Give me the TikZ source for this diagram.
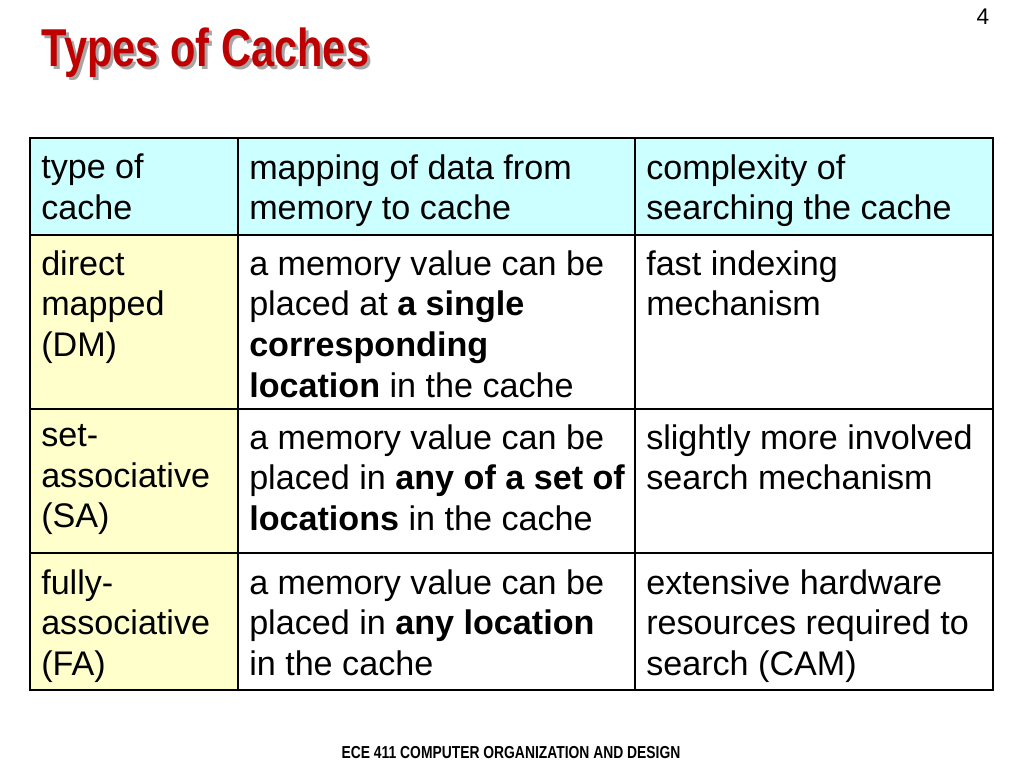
\documentclass[tikz,border=0pt]{standalone}
\usepackage{fontspec}
\setmainfont{Liberation Sans}
\usetikzlibrary{positioning}
\definecolor{headcyan}{HTML}{CCFFFF}
\definecolor{typeyellow}{HTML}{FFFFCC}
\definecolor{titlered}{HTML}{C00000}
\tikzset{
  cell/.style={anchor=north west,align=left,inner sep=0pt,
    font=\fontsize{25.6pt}{30.5pt}\selectfont},
}
\begin{document}
\begin{tikzpicture}[x=0.75pt,y=-0.75pt]
\useasboundingbox (0,0) rectangle (1024,768);
%fills
\fill[headcyan](30,138) rectangle (993,235);
\fill[typeyellow](30,235) rectangle (238,690);
%grid
\foreach \y in {235,409,553}
\draw[line width=0.8pt](30,\y)--(993,\y);
\foreach \x in {238,635}
\draw[line width=0.8pt](\x,138)--(\x,690);
\draw[line width=2.2pt](30,138) rectangle (993,690);
%title
\node[anchor=west,text=gray!70,xscale=0.78,font=\bfseries\fontsize{40pt}{40pt}\selectfont]
  (shadow) at (41,56){Types of Caches};
\node[anchor=west,text=titlered,xscale=0.78,font=\bfseries\fontsize{40pt}{40pt}\selectfont]
  (title) at (38,53){Types of Caches};
\node[font=\fontsize{17pt}{17pt}\selectfont](pagenum) at (983,17){4};
\node[xscale=0.8,font=\bfseries\fontsize{13pt}{13pt}\selectfont](footer) at (511,753)
  {ECE 411 COMPUTER ORGANIZATION AND DESIGN};
%header row
\node[cell](h1) at (41,154){type of\\cache};
\node[cell](h2) at (249,154){mapping of data from\\memory to cache};
\node[cell](h3) at (646,154){complexity of\\searching the cache};
%direct mapped
\node[cell](dm1) at (41,250){direct\\mapped\\(DM)};
\node[cell](dm2) at (249,250){a memory value can be\\placed at \textbf{a single}\\
  \textbf{corresponding}\\\textbf{location} in the cache};
\node[cell](dm3) at (646,250){fast indexing\\mechanism};
%set associative
\node[cell](sa1) at (41,424){set-\\associative\\(SA)};
\node[cell](sa2) at (249,424){a memory value can be\\placed in \textbf{any of a set of}\\
  \textbf{locations} in the cache};
\node[cell](sa3) at (646,424){slightly more involved\\search mechanism};
%fully associative
\node[cell](fa1) at (41,569){fully-\\associative\\(FA)};
\node[cell](fa2) at (249,569){a memory value can be\\placed in \textbf{any location}\\in the cache};
\node[cell](fa3) at (646,569){extensive hardware\\resources required to\\search (CAM)};
\end{tikzpicture}
\end{document}
